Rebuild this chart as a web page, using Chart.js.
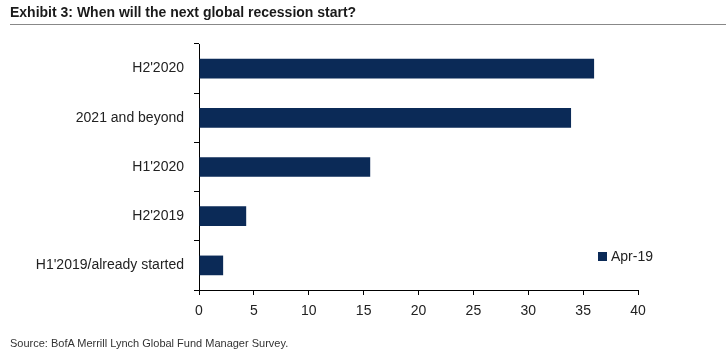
<!DOCTYPE html>
<html>
<head>
<meta charset="utf-8">
<script src="https://cdn.jsdelivr.net/npm/chart.js@4/dist/chart.umd.min.js"></script>
<style>
    body { margin: 0; background: #fff; font-family: "Liberation Sans", Arial, sans-serif; }
    #wrap { position: relative; width: 726px; height: 362px; }
    #title { position: absolute; left: 10px; top: 4px; font-size: 14px; font-weight: bold; color: #1a1a1a; }
    #rule { position: absolute; left: 10px; right: 0; top: 24px; border-top: 1px solid #888; }
    #source { position: absolute; left: 10px; top: 337px; font-size: 11px; color: #333; }
    #legend { position: absolute; left: 598px; top: 248px; font-size: 14px; color: #222; }
    #legend span.box { display: inline-block; width: 9px; height: 9px; background: #0b2a57; margin-right: 4px; }
    canvas { position: absolute; left: 0; top: 0; }
</style>
</head>
<body>
<div id="wrap">
    <canvas id="barChart" width="726" height="362"></canvas>
    <div id="title">Exhibit 3: When will the next global recession start?</div>
    <div id="rule"></div>
    <div id="legend"><span class="box"></span>Apr-19</div>
    <div id="source">Source: BofA Merrill Lynch Global Fund Manager Survey.</div>
</div>
<script>
var categories = ["H2'2020", "2021 and beyond", "H1'2020", "H2'2019", "H1'2019/already started"]
var apr19 = [36.0, 33.9, 15.6, 4.3, 2.2]
var xTicks = [0, 5, 10, 15, 20, 25, 30, 35, 40]

var labelFont = '"Liberation Sans", Arial, sans-serif'

// chart config
var barChart = new Chart(document.querySelector('#barChart'), {
    type: 'bar',
    data: {
        labels: categories,
        datasets: [{
            label: 'Apr-19',
            data: apr19,
            backgroundColor: '#0b2a57',
            borderWidth: 0,
            barPercentage: 0.4,
            categoryPercentage: 1
        }]
    },
    options: {
        indexAxis: 'y',
        responsive: false,
        animation: false,
        layout: {
            padding: { top: 44, right: 88, left: 0, bottom: 0 }
        },
        plugins: {
            legend: { display: false },
            tooltip: { enabled: false }
        },
        scales: {
            x: {
                min: 0,
                max: 40,
                afterBuildTicks: function(scale) {
                    scale.ticks = xTicks.map(v => ({ value: v }))
                },
                afterFit: function(scale) { scale.height = 72 },
                grid: {
                    drawOnChartArea: false,
                    drawTicks: true,
                    tickLength: 5,
                    color: '#000'
                },
                border: { display: true, color: '#000', width: 1 },
                ticks: {
                    padding: 8,
                    color: '#222',
                    font: { family: labelFont, size: 14 }
                }
            },
            y: {
                afterFit: function(scale) { scale.width = 199 },
                grid: {
                    drawOnChartArea: false,
                    drawTicks: true,
                    tickLength: 5,
                    color: '#000'
                },
                border: { display: true, color: '#000', width: 1 },
                ticks: {
                    padding: 10,
                    color: '#222',
                    font: { family: labelFont, size: 14 }
                }
            }
        }
    }
})
// end of chart
</script>
</body>
</html>
